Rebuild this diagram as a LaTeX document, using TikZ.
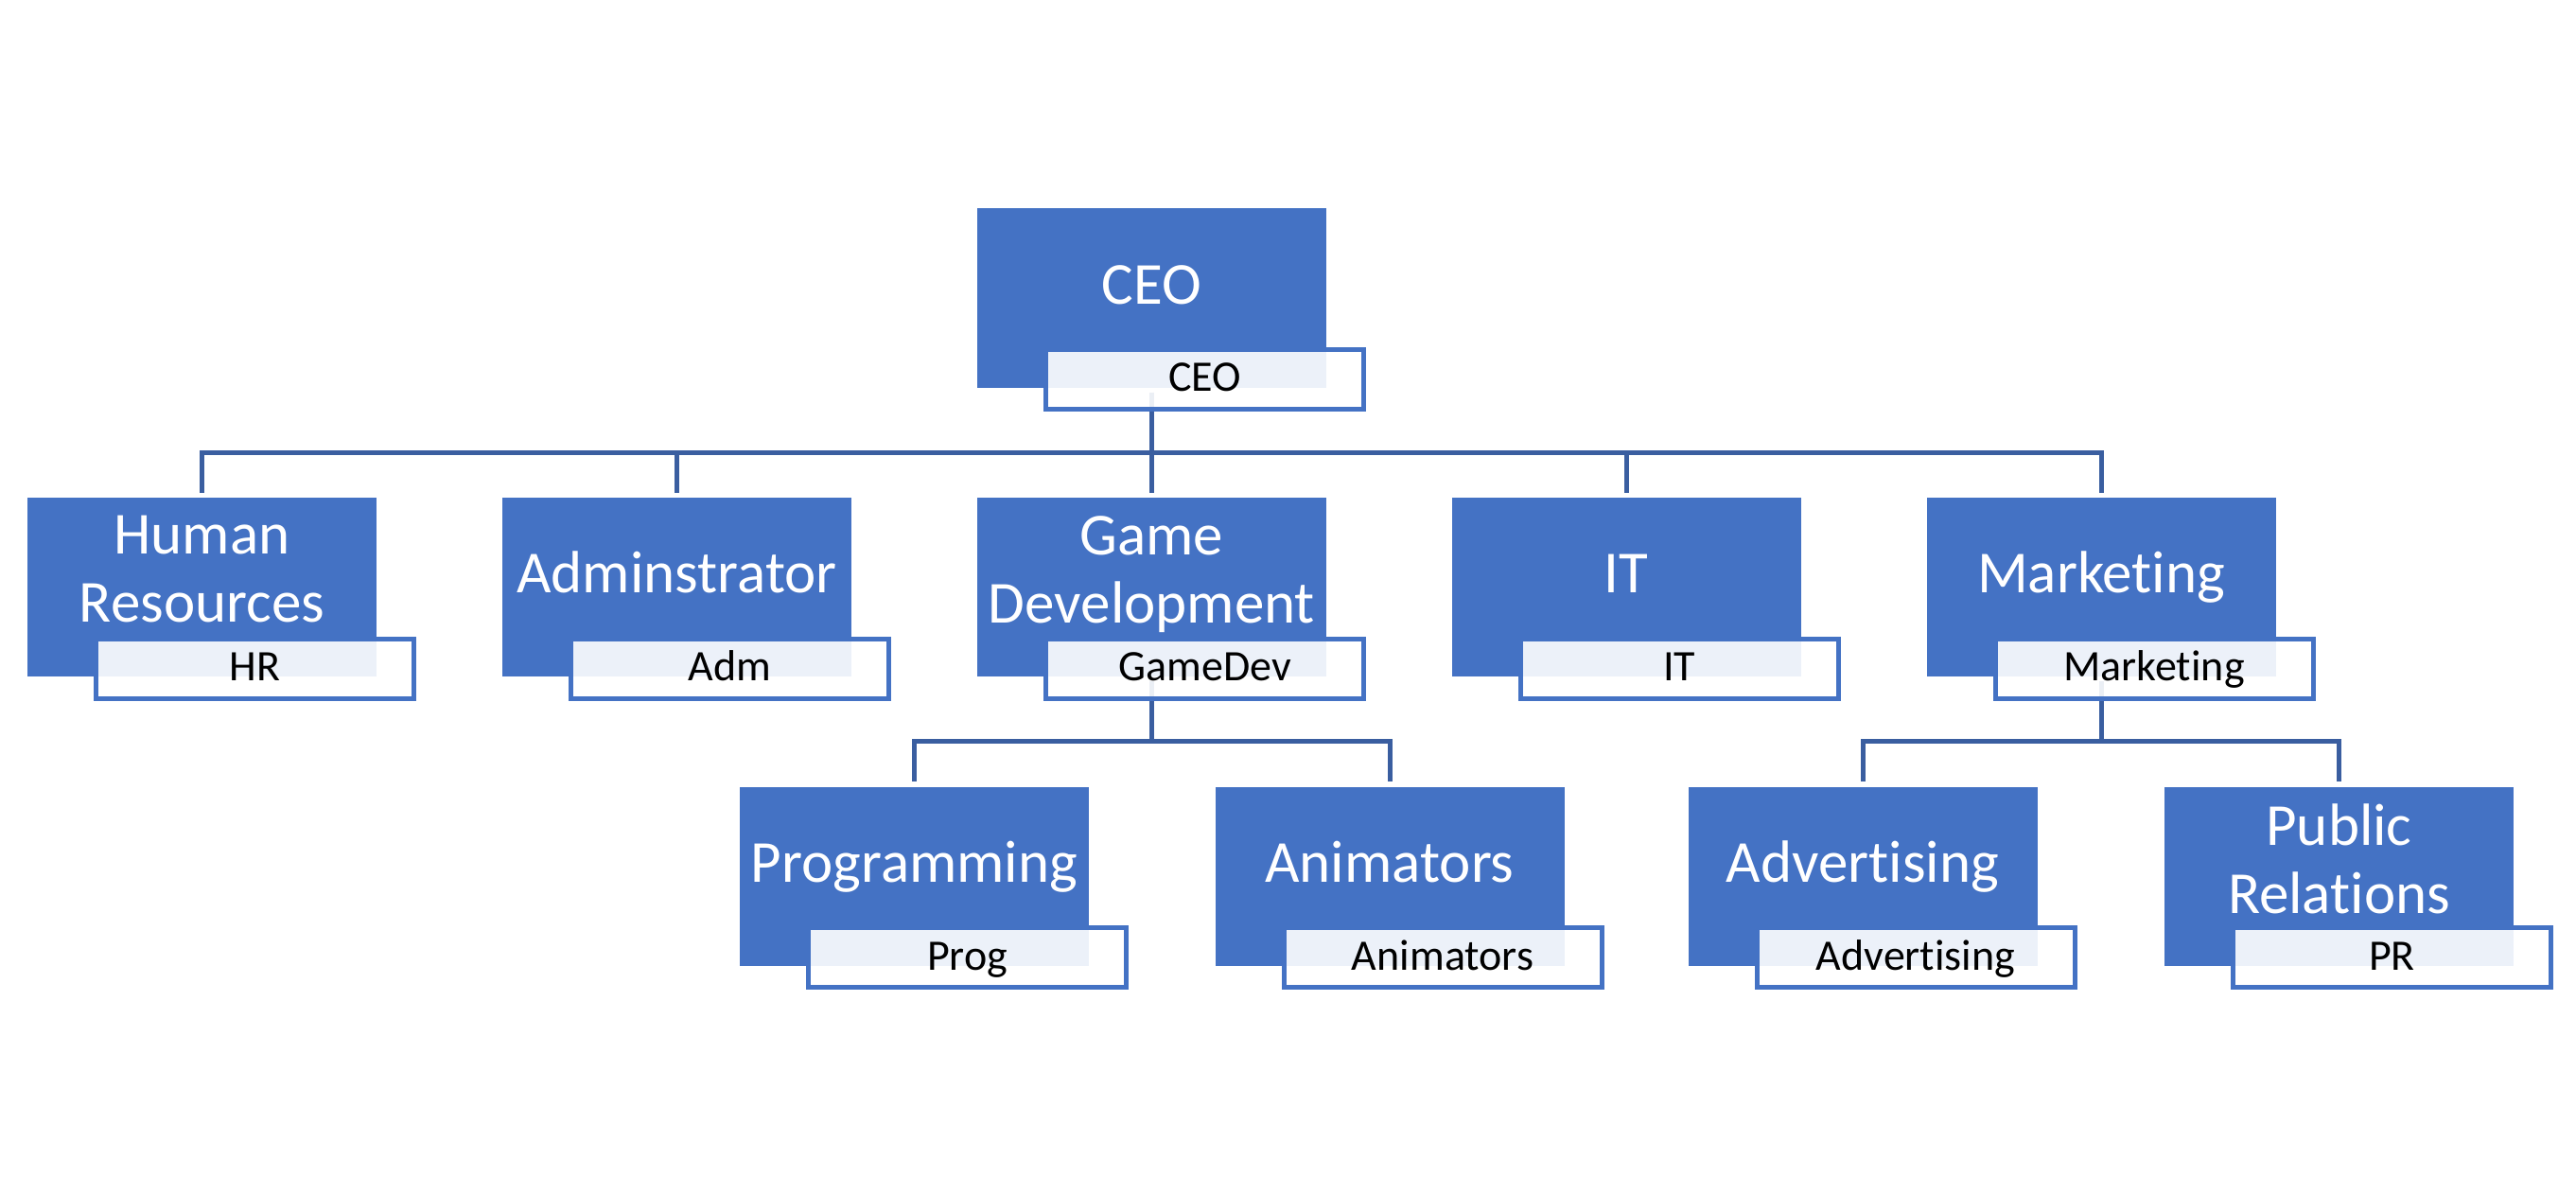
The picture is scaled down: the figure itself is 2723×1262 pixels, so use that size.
\documentclass[tikz,border=0pt]{standalone}
\usepackage{fontspec}
\setmainfont{Carlito}[Ligatures=NoCommon]
\usetikzlibrary{positioning}
\definecolor{boxblue}{RGB}{68,114,196}
\definecolor{linkblue}{RGB}{58,94,160}

\tikzset{
  unit/.style={rectangle, fill=boxblue, minimum width=184.5pt, minimum height=94.5pt, inner sep=0pt},
  unit text/.style={text=white, font=\fontsize{31.5}{36}\selectfont, align=center, inner sep=0pt,
    execute at begin node=\strut, execute at end node=\strut, yshift=4pt},
  tag/.style={rectangle, draw=boxblue, line width=2.5pt, fill=white, fill opacity=0.9, text opacity=1,
    minimum width=168pt, minimum height=31.5pt, inner sep=0pt, text height=17pt, text depth=4pt,
    font=\fontsize{23}{25}\selectfont},
  link/.style={draw=linkblue, line width=2.5pt, shorten <=2.5pt, shorten >=2.5pt}
}

\begin{document}
\begin{tikzpicture}[x=0.5pt, y=-0.5pt]
  \useasboundingbox (0,0) rectangle (2723,1262);
  % Boxes
  \node[unit, label={[unit text, name=ceo-t]center:CEO}] (ceo) at (1217.5,315) {};
  \foreach \n/\x/\t in {hr/213.5/Human\\Resources, adm/715.5/Adminstrator, gamedev/1217.5/Game\\Development,
                        it/1719/IT, mkt/2221/Marketing} {
    \node[unit, label={[unit text, name=\n-t]center:\t}] (\n) at (\x,620.5) {};
  }
  \foreach \n/\x/\t in {prog/966.5/Programming, anim/1469/Animators, adv/1969/Advertising,
                        pr/2472.5/Public\\Relations} {
    \node[unit, label={[unit text, name=\n-t]center:\t}] (\n) at (\x,926) {};
  }
  % Links
  \foreach \c in {hr, adm, gamedev, it, mkt}
    \draw[link] (ceo.south) -- ++(0,69) -| (\c.north);
  \foreach \c in {prog, anim}
    \draw[link] (gamedev.south) -- ++(0,68) -| (\c.north);
  \foreach \c in {adv, pr}
    \draw[link] (mkt.south) -- ++(0,68) -| (\c.north);
  % Name tags
  \foreach \n/\s in {ceo/CEO, hr/HR, adm/Adm, gamedev/GameDev, it/IT, mkt/Marketing,
                     prog/Prog, anim/Animators, adv/Advertising, pr/PR} {
    \node[tag] (\n-tag) at ([xshift=28pt, yshift=-43pt]\n.center) {\s};
  }
\end{tikzpicture}
\end{document}
